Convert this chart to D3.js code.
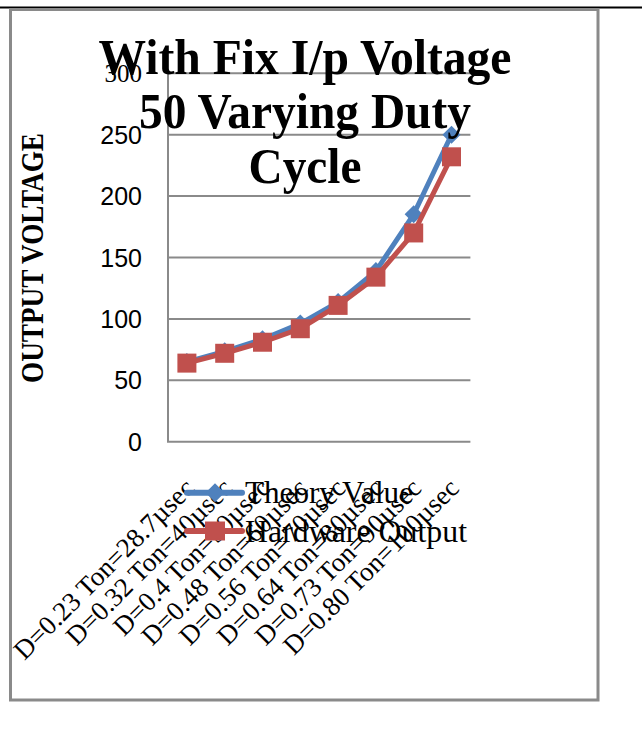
<!DOCTYPE html>
<html>
<head>
<meta charset="utf-8">
<script src="https://cdn.jsdelivr.net/npm/d3@7/dist/d3.min.js"></script>
<style>
  html, body { margin: 0; padding: 0; background: #fff; }
  svg { display: block; }
</style>
</head>
<body>
<script>
// Duty-cycle sweep at fixed input voltage (50 V)
const categories = [
  "D=0.23 Ton=28.7µsec",
  "D=0.32 Ton=40µsec",
  "D=0.4 Ton=50µsec",
  "D=0.48 Ton=60µsec",
  "D=0.56 Ton=70µsec",
  "D=0.64 Ton=80µsec",
  "D=0.73 Ton=90µsec",
  "D=0.80 Ton=100µsec"
];
const theoryValues = [64.9, 73.5, 83.3, 96.2, 113.6, 138.9, 185.2, 250];
const hardwareValues = [64, 72, 81, 92, 111, 134, 170, 232];
const yTicks = [0, 50, 100, 150, 200, 250, 300];
const seriesNames = ["Theory Value", "Hardware Output"];
const titleLines = ["With Fix I/p Voltage", "50 Varying Duty", "Cycle"];
const yAxisTitle = "OUTPUT VOLTAGE";

const W = 642, H = 729;
const blue = "#4F81BD", red = "#C0504D", grid = "#8a8a8a";
const serif = "'Liberation Serif', 'Times New Roman', serif";
const sans = "'Liberation Sans', Arial, sans-serif";

const svg = d3.select("body").append("svg").attr("width", W).attr("height", H);

// page rule and chart frame
svg.append("line").attr("x1", 0).attr("x2", W).attr("y1", 7.5).attr("y2", 7.5)
  .attr("stroke", "#000").attr("stroke-width", 2);
svg.append("rect").attr("x", 10.5).attr("y", 9.5).attr("width", 587.5).attr("height", 690.5)
  .attr("fill", "#fff").attr("stroke", grid).attr("stroke-width", 3);

const plot = { left: 168, right: 470.4, top: 73.3, bottom: 441.7 };

const x = d3.scalePoint().domain(categories).range([plot.left, plot.right]).padding(0.5);
const y = d3.scaleLinear().domain([0, 300]).range([plot.bottom, plot.top]);

// horizontal gridlines
svg.append("g").selectAll("line").data(yTicks.filter(d => d > 0)).join("line")
  .attr("x1", plot.left).attr("x2", plot.right)
  .attr("y1", d => y(d)).attr("y2", d => y(d))
  .attr("stroke", grid).attr("stroke-width", 2);

// axes lines
svg.append("line").attr("x1", plot.left).attr("x2", plot.left)
  .attr("y1", y(300)).attr("y2", y(0)).attr("stroke", grid).attr("stroke-width", 2);
svg.append("line").attr("x1", plot.left - 1).attr("x2", plot.right)
  .attr("y1", y(0)).attr("y2", y(0)).attr("stroke", grid).attr("stroke-width", 2);

// y tick labels
svg.append("g").selectAll("text").data(yTicks).join("text")
  .attr("x", 142).attr("y", d => y(d))
  .attr("text-anchor", "end").attr("dominant-baseline", "central")
  .attr("font-family", d => d === 300 ? serif : sans)
  .attr("font-size", 25).attr("fill", "#000")
  .text(d => d);

// y axis title
svg.append("text")
  .attr("transform", "translate(43,258) rotate(-90)")
  .attr("text-anchor", "middle")
  .attr("font-family", serif).attr("font-weight", "bold").attr("font-size", 31)
  .attr("textLength", 250).attr("lengthAdjust", "spacingAndGlyphs")
  .text(yAxisTitle);

// x category labels, rotated
svg.append("g").selectAll("text").data(categories).join("text")
  .attr("transform", d => `translate(${x(d) + 9},${plot.bottom + 48}) rotate(-45)`)
  .attr("text-anchor", "end")
  .attr("font-family", serif).attr("font-size", 27).attr("fill", "#000")
  .text(d => d);

// series
const line = d3.line().x((d, i) => x(categories[i])).y(d => y(d));
const diamond = d3.symbol().type(d3.symbolDiamond2).size(210);

svg.append("path").datum(theoryValues).attr("d", line)
  .attr("fill", "none").attr("stroke", blue).attr("stroke-width", 5).attr("stroke-linejoin", "round");
svg.append("g").selectAll("path").data(theoryValues).join("path")
  .attr("d", diamond)
  .attr("transform", (d, i) => `translate(${x(categories[i])},${y(d)})`)
  .attr("fill", blue);

svg.append("path").datum(hardwareValues).attr("d", line)
  .attr("fill", "none").attr("stroke", red).attr("stroke-width", 5).attr("stroke-linejoin", "round");
svg.append("g").selectAll("rect").data(hardwareValues).join("rect")
  .attr("x", (d, i) => x(categories[i]) - 9.5).attr("y", d => y(d) - 9.5)
  .attr("width", 19).attr("height", 19)
  .attr("fill", red);

// legend
const legend = svg.append("g");
const legendRows = [
  { name: seriesNames[0], color: blue, cy: 492.7, base: 503 },
  { name: seriesNames[1], color: red, cy: 531, base: 542 }
];
legendRows.forEach((r, i) => {
  legend.append("line").attr("x1", 187).attr("x2", 242).attr("y1", r.cy).attr("y2", r.cy)
    .attr("stroke", r.color).attr("stroke-width", 6).attr("stroke-linecap", "round");
  if (i === 0) {
    legend.append("path").attr("d", d3.symbol().type(d3.symbolDiamond2).size(230))
      .attr("transform", `translate(215,${r.cy})`).attr("fill", r.color);
  } else {
    legend.append("rect").attr("x", 205).attr("y", r.cy - 9.5).attr("width", 20).attr("height", 19)
      .attr("fill", r.color);
  }
  legend.append("text").attr("x", 245).attr("y", r.base)
    .attr("font-family", serif).attr("font-size", 32).attr("fill", "#000")
    .attr("textLength", i === 0 ? 168 : 222).attr("lengthAdjust", "spacingAndGlyphs")
    .text(r.name);
});

// chart title, three lines
const titleBase = [73.5, 128.3, 182.5];
const titleLen = [413, 332, 113];
svg.append("g").selectAll("text").data(titleLines).join("text")
  .attr("x", 305).attr("y", (d, i) => titleBase[i])
  .attr("text-anchor", "middle")
  .attr("font-family", serif).attr("font-weight", "bold").attr("font-size", 50)
  .attr("textLength", (d, i) => titleLen[i]).attr("lengthAdjust", "spacingAndGlyphs")
  .attr("fill", "#000")
  .text(d => d);
</script>
</body>
</html>
